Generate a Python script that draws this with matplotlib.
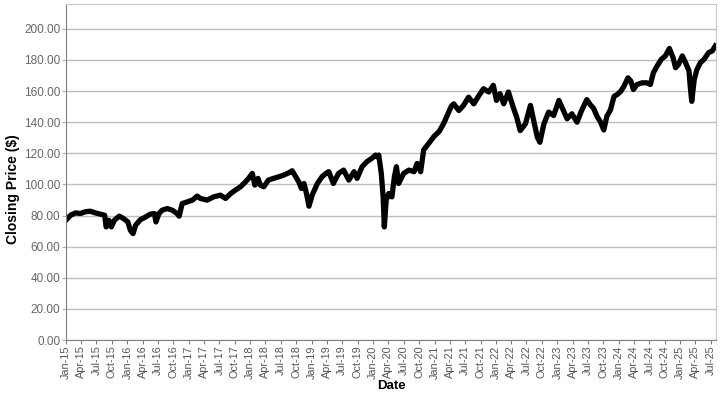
import matplotlib.pyplot as plt
import matplotlib.dates as mdates
from matplotlib.ticker import FormatStrFormatter
import numpy as np

plt.rcParams['font.family'] = ['Liberation Sans', 'DejaVu Sans']

# closing prices
dates = [
    "2015-01-04", "2015-01-28", "2015-02-27", "2015-03-28", "2015-04-25", "2015-05-25",
    "2015-06-25", "2015-07-25", "2015-08-19", "2015-08-28", "2015-09-13", "2015-09-28",
    "2015-10-16", "2015-11-13", "2015-12-10", "2016-01-04", "2016-01-19", "2016-02-04",
    "2016-02-19", "2016-03-19", "2016-04-19", "2016-05-16", "2016-06-10", "2016-06-19",
    "2016-07-07", "2016-07-25", "2016-08-25", "2016-09-25", "2016-10-22", "2016-11-04",
    "2016-11-22", "2016-12-22", "2017-01-22", "2017-02-19", "2017-03-10", "2017-04-19",
    "2017-05-28", "2017-07-07", "2017-08-07", "2017-09-07", "2017-10-04", "2017-11-04",
    "2017-12-04", "2017-12-22", "2018-01-13", "2018-01-28", "2018-02-16", "2018-03-01",
    "2018-03-22", "2018-04-19", "2018-05-19", "2018-06-19", "2018-07-19", "2018-08-19",
    "2018-09-07", "2018-09-28", "2018-10-16", "2018-11-01", "2018-11-16", "2018-12-01",
    "2018-12-16", "2019-01-04", "2019-02-04", "2019-03-04", "2019-04-01", "2019-04-13",
    "2019-05-10", "2019-06-10", "2019-07-10", "2019-08-10", "2019-09-10", "2019-09-28",
    "2019-10-28", "2019-11-25", "2019-12-25", "2020-01-16", "2020-01-25", "2020-02-04",
    "2020-02-19", "2020-03-01", "2020-03-08", "2020-03-19", "2020-04-04", "2020-04-22",
    "2020-05-07", "2020-05-19", "2020-06-01", "2020-07-01", "2020-08-01", "2020-09-01",
    "2020-09-19", "2020-10-10", "2020-10-28", "2020-11-28", "2020-12-28", "2021-01-28",
    "2021-02-25", "2021-03-10", "2021-04-10", "2021-04-25", "2021-05-25", "2021-06-22",
    "2021-07-22", "2021-08-22", "2021-09-22", "2021-10-19", "2021-11-19", "2021-12-16",
    "2022-01-04", "2022-01-25", "2022-02-16", "2022-03-16", "2022-04-13", "2022-05-04",
    "2022-05-25", "2022-06-25", "2022-07-25", "2022-08-13", "2022-09-04", "2022-09-19",
    "2022-10-13", "2022-11-10", "2022-12-10", "2023-01-10", "2023-02-10", "2023-02-28",
    "2023-03-28", "2023-04-28", "2023-05-25", "2023-06-25", "2023-07-16", "2023-08-04",
    "2023-08-25", "2023-09-13", "2023-10-04", "2023-10-22", "2023-11-13", "2023-12-04",
    "2023-12-22", "2024-01-13", "2024-02-01", "2024-02-25", "2024-03-13", "2024-03-28",
    "2024-04-19", "2024-05-19", "2024-06-16", "2024-07-07", "2024-07-25", "2024-08-16",
    "2024-09-10", "2024-10-04", "2024-10-28", "2024-11-19", "2024-12-04", "2024-12-22",
    "2025-01-13", "2025-02-01", "2025-02-22", "2025-03-01", "2025-03-10", "2025-03-25",
    "2025-04-10", "2025-05-01", "2025-05-22", "2025-06-19", "2025-07-10", "2025-07-28",
]
closes = [
    77.4, 80.2, 81.7, 81.3, 82.4, 82.8,
    81.7, 80.9, 80.2, 72.7, 77.0, 72.7,
    77.0, 79.6, 78.0, 75.9, 70.5, 68.4,
    73.8, 77.4, 79.1, 80.9, 81.3, 75.9,
    81.3, 83.4, 84.5, 83.4, 81.3, 79.6,
    87.7, 88.8, 89.9, 92.5, 91.0, 89.9,
    92.0, 93.1, 91.0, 94.2, 96.3, 98.5,
    101.7, 103.9, 107.1, 99.6, 103.9, 99.6,
    98.5, 102.8, 103.9, 104.9, 106.0, 107.5,
    108.8, 105.0, 101.7, 97.4, 100.6, 94.2,
    86.0, 93.1, 100.6, 105.0, 107.5, 108.2,
    100.6, 107.1, 109.2, 102.8, 108.2, 103.9,
    111.4, 114.6, 116.8, 118.9, 117.8, 118.9,
    107.1, 92.0, 72.7, 89.9, 94.2, 92.0,
    105.0, 111.4, 100.6, 107.1, 109.2, 108.2,
    113.5, 108.2, 122.2, 126.5, 130.8, 134.0,
    139.4, 142.6, 150.2, 151.8, 147.5, 150.8,
    156.1, 151.8, 157.2, 161.5, 159.4, 163.7,
    154.0, 158.3, 151.8, 159.4, 149.7, 143.2,
    134.6, 138.9, 150.8, 141.1, 130.3, 127.1,
    138.9, 146.5, 144.3, 154.0, 146.5, 142.2,
    145.4, 140.0, 147.5, 154.5, 151.2, 149.0,
    143.7, 140.4, 135.0, 143.7, 148.0, 156.6,
    157.7, 159.9, 163.1, 168.5, 166.4, 161.0,
    164.2, 165.3, 165.3, 164.2, 171.8, 176.1,
    180.4, 182.6, 187.4, 181.5, 175.0, 177.2,
    182.6, 178.3, 172.9, 163.1, 153.4, 167.5,
    173.9, 178.3, 180.4, 184.8, 185.8, 189.0,
]

x = np.array(dates, dtype='datetime64[D]')
y = np.array(closes)

fig = plt.figure(figsize=(7.21, 3.94), dpi=100)
ax = fig.add_axes([0.0915, 0.137, 0.9015, 0.853])

ax.plot(x, y, color='black', linewidth=3.8)

ax.set_xlim(np.datetime64('2015-01-01'), np.datetime64('2025-08-01'))
ax.set_ylim(0, 216)
ax.set_yticks(np.arange(0, 201, 20))
ax.yaxis.set_major_formatter(FormatStrFormatter('%.2f'))
ax.xaxis.set_major_locator(mdates.MonthLocator(bymonth=[1, 4, 7, 10]))
ax.xaxis.set_major_formatter(mdates.DateFormatter('%b-%y'))

ax.grid(axis='y', color='#bdbdbd', linewidth=1)
ax.set_axisbelow(True)
for side in ['top', 'right']:
    ax.spines[side].set_color('#c8c8c8')
for side in ['left', 'bottom']:
    ax.spines[side].set_color('#808080')

ax.tick_params(axis='x', labelrotation=90, labelsize=7.8, colors='#808080',
               labelcolor='#555555', length=3, pad=1)
ax.tick_params(axis='y', labelsize=8.5, colors='#b0b0b0',
               labelcolor='#666666', length=3, pad=1)

ax.set_xlabel('Date', fontsize=9.5, fontweight='bold', labelpad=1)
ax.set_ylabel('Closing Price ($)', fontsize=10, fontweight='bold')
ax.yaxis.set_label_coords(-0.071, 0.45)

fig.savefig('out.png', dpi=100)
